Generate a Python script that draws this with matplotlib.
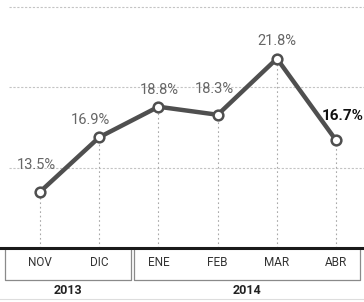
import matplotlib
matplotlib.use("Agg")
import matplotlib.pyplot as plt

months = ["NOV", "DIC", "ENE", "FEB", "MAR", "ABR"]
years = ["2013", "2014"]
year_groups = [(0, 1), (2, 5)]
values = [13.5, 16.9, 18.8, 18.3, 21.8, 16.7]
labels = ["13.5%", "16.9%", "18.8%", "18.3%", "21.8%", "16.7%"]
grid_levels = [15, 20, 25]

W, H = 364, 302
fig = plt.figure(figsize=(W / 100, H / 100), dpi=100)
fig.patch.set_facecolor("white")
ax_bottom_px = 54
ax = fig.add_axes([0, ax_bottom_px / H, 1, 1 - ax_bottom_px / H])
ax.set_xlim(-0.676, 5.47)
ax.set_ylim(10, 25.45)
for s in ["top", "left", "right"]:
    ax.spines[s].set_visible(False)
ax.spines["bottom"].set_color("#1a1a1a")
ax.spines["bottom"].set_linewidth(2.2)
ax.set_xticks([])
ax.set_yticks([])

x = list(range(len(months)))
line_col = "#4f4f4f"
text_col = "#666666"
fam = ["Roboto", "DejaVu Sans"]

for g in grid_levels:
    ax.plot([-0.52, 5.47], [g, g], color="#c4c4c4", lw=0.8, ls=(0, (2, 1.5)), zorder=1)

ax.vlines(x, 10, values, colors="#a8a8a8", lw=0.8, linestyles=(0, (1.5, 2.5)), zorder=1)
ax.plot(x, values, color=line_col, lw=3.2, zorder=3, solid_capstyle="round")
ax.plot(x, values, ls="none", marker="o", ms=7, mfc="white", mec=line_col, mew=1.8, zorder=4)

offsets = [(-4, 27), (-9, 17), (1, 17), (-3, 26), (0, 18), (-14, 24)]
for i, (xi, v, lab) in enumerate(zip(x, values, labels)):
    dx, dy = offsets[i]
    if i == len(values) - 1:
        ax.annotate(lab, (xi, v), xytext=(dx, dy), textcoords="offset pixels",
                    ha="left", va="center", fontsize=11, fontweight="bold",
                    color="#111111", family=fam, annotation_clip=False)
    else:
        ax.annotate(lab, (xi, v), xytext=(dx, dy), textcoords="offset pixels",
                    ha="center", va="center", fontsize=10.5, fontweight="normal",
                    color=text_col, family=fam, annotation_clip=False)

# category box below axis
tr = ax.get_xaxis_transform()
ax_h = H - ax_bottom_px
def yf(px_from_baseline):
    return -px_from_baseline / ax_h

box_top = yf(2)
box_bot = yf(32)
edges = [(-0.59, 1.53), (1.585, 5.41)]
for (l, r) in edges:
    ax.plot([l, l, r, r], [box_top, box_bot, box_bot, box_top], color="#8a8a8a",
            lw=0.9, transform=tr, clip_on=False)

for xi, m in zip(x, months):
    ax.text(xi, yf(14), m, transform=tr, ha="center", va="center", fontsize=8.5,
            color="#333333", family=fam, clip_on=False)

for (l, r), yr in zip(edges, years):
    xc = (l + r) / 2
    ax.text(xc, yf(42), yr, transform=tr, ha="center", va="center", fontsize=9,
            fontweight="bold", color="#222222", family=fam, clip_on=False)

ax.plot([-0.676, 5.47], [yf(51), yf(51)], color="#dddddd", lw=0.8, transform=tr, clip_on=False)

fig.savefig("out.png", dpi=100, facecolor="white")
